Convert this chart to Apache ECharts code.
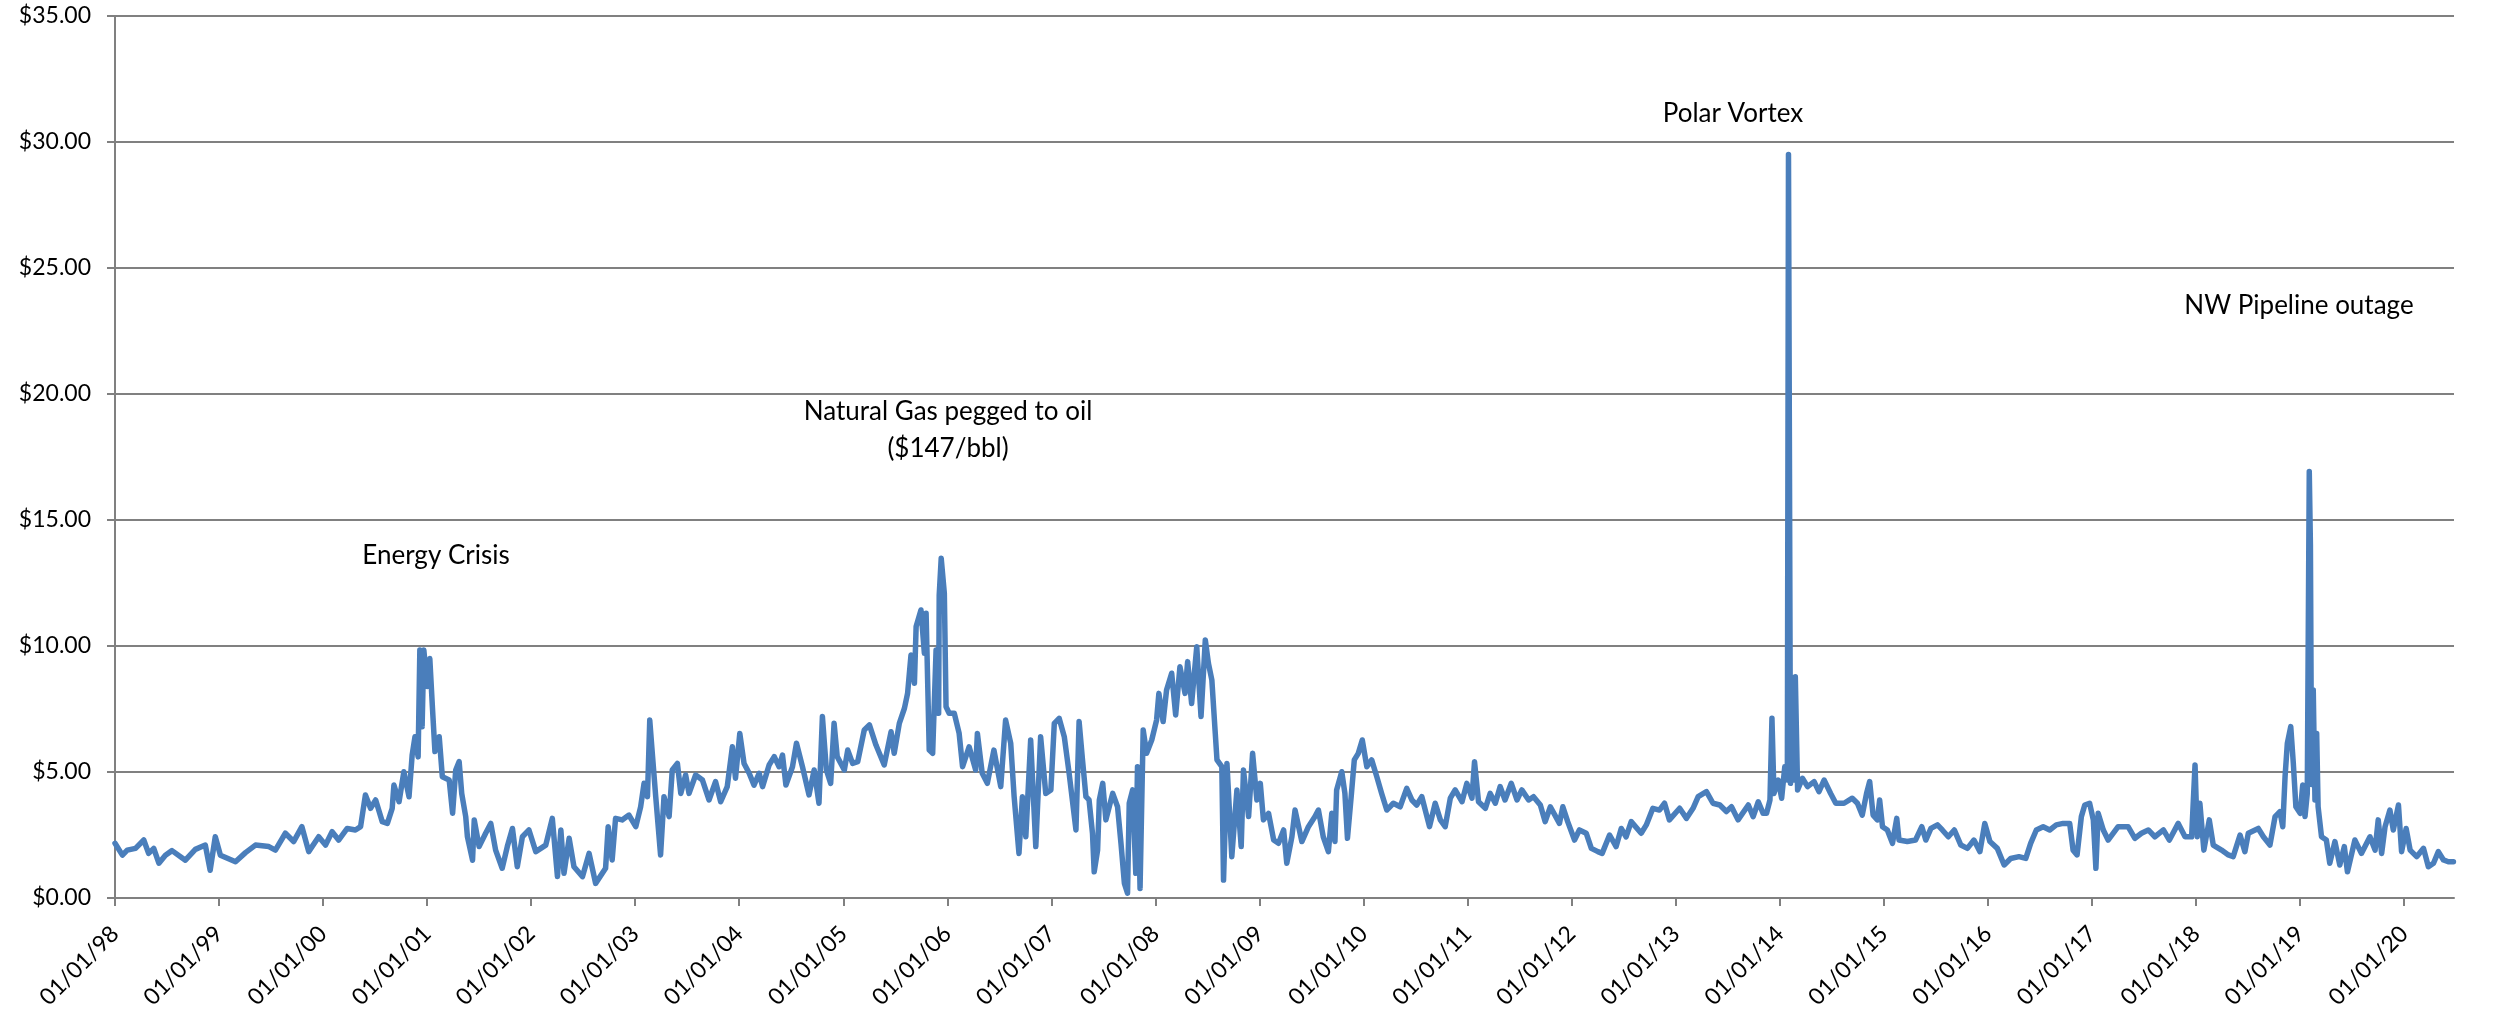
<!DOCTYPE html>
<html>
<head>
<meta charset="utf-8">
<script src="https://cdn.jsdelivr.net/npm/echarts@6/dist/echarts.min.js"></script>
<style>
html,body{margin:0;padding:0;background:#fff;}
#chart{width:2504px;height:1021px;}
</style>
</head>
<body>
<div id="chart"></div>
<script>
const dates = [
'1998-01-01','1998-01-27','1998-02-13','1998-03-14','1998-04-12','1998-04-29','1998-05-17','1998-06-04','1998-06-27','1998-07-20',
'1998-09-05','1998-10-10','1998-11-14','1998-12-01','1998-12-19','1999-01-06','1999-02-28','1999-04-04','1999-05-09','1999-06-25',
'1999-07-18','1999-08-22','1999-09-20','1999-10-19','1999-11-12','1999-12-17','2000-01-10','2000-02-02','2000-02-25','2000-03-26',
'2000-04-24','2000-05-12','2000-05-29','2000-06-16','2000-07-04','2000-07-27','2000-08-14','2000-08-31','2000-09-06','2000-09-24',
'2000-10-11','2000-10-29','2000-11-09','2000-11-19','2000-11-30','2000-12-06','2000-12-14','2000-12-20','2001-01-01','2001-01-10',
'2001-01-19','2001-01-28','2001-02-12','2001-02-23','2001-03-19','2001-03-31','2001-04-11','2001-04-23','2001-05-02','2001-05-16',
'2001-05-22','2001-06-09','2001-06-15','2001-07-02','2001-07-25','2001-08-12','2001-08-29','2001-09-21','2001-10-09','2001-10-27',
'2001-11-13','2001-12-01','2001-12-24','2002-01-17','2002-02-21','2002-03-16','2002-04-03','2002-04-15','2002-04-26','2002-05-14',
'2002-05-31','2002-06-30','2002-07-23','2002-08-15','2002-09-19','2002-09-28','2002-10-12','2002-10-24','2002-11-16','2002-12-10',
'2003-01-03','2003-01-20','2003-02-01','2003-02-13','2003-02-21','2003-03-02','2003-03-14','2003-03-31','2003-04-12','2003-04-30',
'2003-05-11','2003-05-29','2003-06-10','2003-06-27','2003-07-09','2003-08-01','2003-08-25','2003-09-17','2003-10-10','2003-10-28',
'2003-11-20','2003-12-08','2003-12-19','2004-01-03','2004-01-18','2004-02-05','2004-02-22','2004-03-11','2004-03-23','2004-04-15',
'2004-05-03','2004-05-20','2004-06-01','2004-06-13','2004-07-06','2004-07-20','2004-08-10','2004-09-02','2004-09-20','2004-10-07',
'2004-10-19','2004-11-02','2004-11-17','2004-11-29','2004-12-10','2005-01-04','2005-01-16','2005-02-02','2005-02-20','2005-03-15',
'2005-04-02','2005-04-25','2005-05-24','2005-06-17','2005-06-28','2005-07-16','2005-08-03','2005-08-14','2005-08-26','2005-09-07',
'2005-09-13','2005-09-30','2005-10-12','2005-10-18','2005-10-29','2005-11-10','2005-11-22','2005-12-01','2005-12-03','2005-12-10',
'2005-12-21','2005-12-27','2006-01-07','2006-01-25','2006-02-11','2006-02-23','2006-03-18','2006-04-10','2006-04-16','2006-05-03',
'2006-05-21','2006-06-13','2006-07-07','2006-07-24','2006-08-11','2006-08-23','2006-09-09','2006-09-21','2006-10-03','2006-10-20',
'2006-11-07','2006-11-24','2006-12-12','2006-12-30','2007-01-11','2007-01-28','2007-02-15','2007-03-04','2007-03-28','2007-04-08',
'2007-04-20','2007-05-02','2007-05-13','2007-05-25','2007-05-31','2007-06-12','2007-06-18','2007-06-30','2007-07-11','2007-08-04',
'2007-08-21','2007-09-02','2007-09-14','2007-09-25','2007-10-01','2007-10-13','2007-10-24','2007-10-30','2007-11-08','2007-11-19',
'2007-12-01','2007-12-19','2008-01-05','2008-01-13','2008-01-28','2008-02-09','2008-02-27','2008-03-12','2008-03-27','2008-04-14',
'2008-04-23','2008-05-07','2008-05-25','2008-06-09','2008-06-24','2008-07-05','2008-07-17','2008-07-29','2008-08-04','2008-08-21',
'2008-08-27','2008-09-08','2008-09-25','2008-10-13','2008-10-28','2008-11-05','2008-11-23','2008-12-07','2008-12-22','2009-01-03',
'2009-01-14','2009-02-01','2009-02-19','2009-03-08','2009-03-26','2009-04-06','2009-04-24','2009-05-05','2009-05-29','2009-06-21',
'2009-07-14','2009-07-26','2009-08-12','2009-08-30','2009-09-11','2009-09-22','2009-09-28','2009-10-16','2009-10-27','2009-11-05',
'2009-11-19','2009-11-29','2009-12-13','2009-12-27','2010-01-12','2010-01-29','2010-02-16','2010-03-05','2010-03-23','2010-04-15',
'2010-05-09','2010-06-01','2010-06-19','2010-07-06','2010-07-24','2010-08-20','2010-09-09','2010-09-27','2010-10-14','2010-11-01',
'2010-11-18','2010-12-12','2010-12-29','2011-01-16','2011-01-25','2011-02-08','2011-03-04','2011-03-21','2011-04-08','2011-04-25',
'2011-05-12','2011-06-03','2011-06-23','2011-07-10','2011-08-03','2011-08-20','2011-09-13','2011-09-30','2011-10-18','2011-11-19',
'2011-12-01','2011-12-18','2012-01-11','2012-01-28','2012-02-21','2012-03-10','2012-04-02','2012-04-17','2012-05-13','2012-06-05',
'2012-06-23','2012-07-10','2012-07-28','2012-09-01','2012-09-19','2012-10-12','2012-11-04','2012-11-22','2012-12-09','2013-01-14',
'2013-02-07','2013-03-02','2013-03-20','2013-04-18','2013-05-11','2013-06-04','2013-06-27','2013-07-15','2013-08-07','2013-09-12',
'2013-09-29','2013-10-17','2013-11-03','2013-11-15','2013-11-27','2013-12-04','2013-12-11','2013-12-26','2014-01-07','2014-01-18',
'2014-01-27','2014-01-31','2014-02-07','2014-02-14','2014-02-19','2014-02-24','2014-03-04','2014-03-21','2014-04-08','2014-05-01',
'2014-05-18','2014-06-05','2014-06-28','2014-07-16','2014-08-14','2014-09-12','2014-09-30','2014-10-17','2014-11-01','2014-11-12',
'2014-11-24','2014-12-09','2014-12-17','2014-12-27','2015-01-13','2015-01-31','2015-02-15','2015-02-23','2015-03-24','2015-04-22',
'2015-05-14','2015-05-28','2015-06-15','2015-07-08','2015-07-25','2015-08-15','2015-09-05','2015-09-28','2015-10-21','2015-11-13',
'2015-12-04','2015-12-21','2016-01-08','2016-02-03','2016-02-27','2016-03-21','2016-04-19','2016-05-13','2016-05-30','2016-06-19',
'2016-07-13','2016-08-05','2016-08-28','2016-09-21','2016-10-14','2016-10-26','2016-11-09','2016-11-24','2016-12-06','2016-12-23',
'2017-01-05','2017-01-14','2017-01-22','2017-02-09','2017-02-26','2017-04-02','2017-05-07','2017-05-31','2017-06-23','2017-07-17',
'2017-08-09','2017-09-08','2017-09-29','2017-10-30','2017-11-23','2017-12-16','2017-12-28','2018-01-05','2018-01-14','2018-01-28',
'2018-02-16','2018-03-02','2018-03-31','2018-04-24','2018-05-11','2018-06-04','2018-06-21','2018-07-03','2018-08-07','2018-08-25',
'2018-09-17','2018-10-05','2018-10-22','2018-11-01','2018-11-09','2018-11-17','2018-11-29','2018-12-08','2018-12-17','2019-01-01',
'2019-01-10','2019-01-18','2019-01-26','2019-02-02','2019-02-06','2019-02-10','2019-02-16','2019-02-22','2019-02-28','2019-03-05',
'2019-03-17','2019-04-03','2019-04-15','2019-05-03','2019-05-20','2019-06-05','2019-06-16','2019-07-12','2019-08-04','2019-09-03',
'2019-09-21','2019-10-02','2019-10-14','2019-10-26','2019-11-12','2019-11-24','2019-12-12','2019-12-23','2020-01-08','2020-01-22',
'2020-02-14','2020-03-09','2020-03-26','2020-04-13','2020-04-30','2020-05-18','2020-06-04','2020-06-22'
];
const prices = [
2.17,1.70,1.90,1.97,2.30,1.77,1.97,1.38,1.70,1.88,
1.50,1.93,2.10,1.10,2.43,1.70,1.44,1.80,2.10,2.04,
1.90,2.57,2.24,2.83,1.84,2.43,2.10,2.63,2.30,2.76,
2.70,2.83,4.09,3.56,3.89,3.03,2.96,3.56,4.48,3.82,
5.01,4.02,5.67,6.40,5.60,9.84,6.80,9.84,8.39,9.50,
7.60,5.81,6.40,4.81,4.68,3.36,5.08,5.41,4.15,3.23,
2.43,1.50,3.10,2.04,2.57,2.96,1.90,1.18,2.04,2.76,
1.24,2.43,2.70,1.84,2.10,3.16,0.85,2.70,0.98,2.37,
1.24,0.85,1.77,0.58,1.18,2.83,1.51,3.16,3.10,3.29,
2.83,3.62,4.55,4.02,7.06,5.74,4.02,1.71,4.02,3.23,
5.08,5.34,4.15,4.88,4.15,4.88,4.68,3.89,4.62,3.82,
4.42,6.00,4.75,6.53,5.34,4.95,4.48,4.95,4.42,5.28,
5.61,5.21,5.67,4.48,5.21,6.14,5.21,4.09,5.08,3.76,
7.20,5.08,4.55,6.93,5.61,5.08,5.87,5.34,5.41,6.67,
6.87,6.07,5.28,6.60,5.74,6.93,7.53,8.12,9.64,8.52,
10.77,11.43,9.71,11.30,5.87,5.74,9.84,7.33,12.02,13.48,
12.09,7.59,7.33,7.33,6.53,5.21,6.00,5.08,6.53,4.95,
4.55,5.87,4.42,7.06,6.14,4.02,1.77,4.02,2.43,6.27,
2.04,6.40,4.15,4.29,6.93,7.13,6.40,4.95,2.70,7.00,
5.48,4.02,3.89,2.57,1.04,1.90,3.89,4.55,3.10,4.15,
3.62,2.17,0.58,0.19,3.76,4.29,0.98,5.21,0.38,6.67,
5.74,6.27,7.06,8.12,7.00,8.25,8.92,7.26,9.18,8.12,
9.38,7.72,9.97,7.20,10.24,9.31,8.65,6.53,5.48,5.21,
0.71,5.34,1.64,4.29,2.04,5.08,3.23,5.74,3.89,4.55,
3.10,3.36,2.30,2.17,2.70,1.38,2.43,3.49,2.24,2.83,
3.23,3.49,2.43,1.84,3.36,2.24,4.29,5.01,4.15,2.37,
4.15,5.48,5.74,6.27,5.21,5.48,4.81,4.15,3.49,3.76,
3.62,4.35,3.89,3.69,4.02,2.83,3.76,3.10,2.83,3.96,
4.29,3.82,4.55,3.96,5.41,3.82,3.56,4.15,3.76,4.42,
3.89,4.55,3.89,4.29,3.89,4.02,3.69,3.03,3.62,2.96,
3.62,3.03,2.30,2.70,2.57,1.97,1.84,1.77,2.50,2.04,
2.76,2.43,3.03,2.57,2.90,3.56,3.49,3.76,3.10,3.56,
3.16,3.56,4.02,4.22,3.76,3.69,3.43,3.62,3.10,3.69,
3.23,3.82,3.36,3.36,3.89,7.13,4.15,4.68,3.96,5.21,
4.68,29.50,4.55,8.25,4.68,8.78,4.29,4.75,4.42,4.62,
4.22,4.68,4.15,3.76,3.76,3.96,3.76,3.29,4.15,4.62,
3.29,3.10,3.89,2.83,2.70,2.17,3.16,2.30,2.24,2.30,
2.83,2.30,2.76,2.90,2.70,2.43,2.70,2.10,1.97,2.30,
1.84,2.96,2.24,1.97,1.31,1.57,1.64,1.57,2.17,2.70,
2.83,2.70,2.90,2.96,2.96,1.90,1.71,3.23,3.69,3.76,
3.10,1.18,3.36,2.70,2.30,2.83,2.83,2.37,2.57,2.70,
2.43,2.70,2.30,2.96,2.43,2.43,5.28,2.43,3.76,1.90,
3.10,2.10,1.90,1.71,1.64,2.50,1.84,2.57,2.76,2.43,
2.10,3.23,3.43,2.83,4.81,6.14,6.80,5.34,3.62,3.36,
4.48,3.23,4.15,16.92,14.00,4.50,8.25,3.89,6.53,3.62,
2.43,2.30,1.38,2.24,1.31,2.04,1.04,2.30,1.77,2.43,
1.90,3.10,1.77,2.83,3.49,2.70,3.69,1.84,2.76,1.90,
1.64,1.97,1.24,1.38,1.84,1.51,1.44,1.44
];
const yTicks = [0, 5, 10, 15, 20, 25, 30, 35];
const annotations = [
  { text: 'Energy Crisis', date: '2000-12-01' },
  { text: 'Natural Gas pegged to oil\n($147/bbl)', date: '2005-12-01' },
  { text: 'Polar Vortex', date: '2014-01-31' },
  { text: 'NW Pipeline outage', date: '2019-02-02' }
];

const seriesData = dates.map((d, i) => [d, prices[i]]);
const FONT = 'Lato, "Open Sans", sans-serif';
const grid = { left: 115, right: 50, top: 16, bottom: 123 };

const chart = echarts.init(document.getElementById('chart'), null, { renderer: 'canvas' });
const YEAR = 365 * 24 * 3600 * 1000;

function pad(n) { return (n < 10 ? '0' : '') + n; }

chart.setOption({
  animation: false,
  backgroundColor: '#ffffff',
  grid: Object.assign({ containLabel: false }, grid),
  xAxis: {
    type: 'time',
    min: '1998-01-01',
    max: '2020-06-24',
    minInterval: YEAR,
    maxInterval: YEAR + 24 * 3600 * 1000,
    splitLine: { show: false },
    axisLine: { show: true, lineStyle: { color: '#808080', width: 2 } },
    axisTick: { show: true, length: 8, lineStyle: { color: '#808080', width: 2 } },
    axisLabel: {
      rotate: 45,
      margin: 32,
      color: '#000',
      fontFamily: FONT,
      fontSize: 23,
      hideOverlap: false,
      showMinLabel: true,
      showMaxLabel: false,
      formatter: function (v) {
        const d = new Date(v);
        return pad(d.getMonth() + 1) + '/' + pad(d.getDate()) + '/' + pad(d.getFullYear() % 100);
      }
    }
  },
  yAxis: {
    type: 'value',
    min: yTicks[0],
    max: yTicks[yTicks.length - 1],
    interval: 5,
    axisLine: { show: true, lineStyle: { color: '#808080', width: 2 } },
    axisTick: { show: true, length: 8, lineStyle: { color: '#808080', width: 2 } },
    splitLine: { show: true, lineStyle: { color: '#808080', width: 2 } },
    axisLabel: {
      margin: 24,
      color: '#000',
      fontFamily: FONT,
      fontSize: 23,
      formatter: v => '$' + v.toFixed(2)
    }
  },
  series: [{
    type: 'line',
    data: seriesData,
    showSymbol: false,
    symbol: 'none',
    lineStyle: { color: '#4A7EBB', width: 5.5, join: 'round', cap: 'round' },
    z: 3
  }]
});

// annotation labels placed near their events
const annPos = [
  { x: 436, y: 556 },
  { x: 948, y: 430 },
  { x: 1733, y: 114 },
  { x: 2299, y: 306 }
];
chart.setOption({
  graphic: annotations.map((a, i) => ({
    type: 'text',
    x: annPos[i].x,
    y: annPos[i].y,
    style: {
      text: a.text,
      fill: '#000',
      font: '26px ' + FONT,
      align: 'center',
      verticalAlign: 'middle',
      lineHeight: 37
    },
    z: 10
  }))
});
</script>
</body>
</html>
